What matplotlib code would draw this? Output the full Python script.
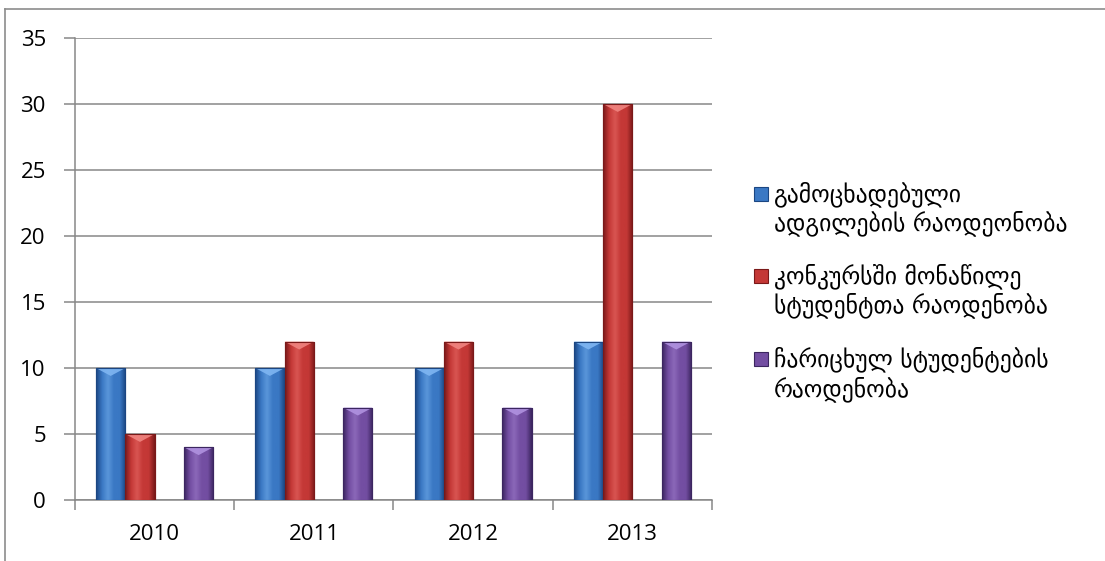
import numpy as np
import matplotlib
matplotlib.use("Agg")
import matplotlib.pyplot as plt
from matplotlib.patches import Polygon, Rectangle
from matplotlib.lines import Line2D
from matplotlib.colors import LinearSegmentedColormap

# ---- data ----
years = ["2010", "2011", "2012", "2013"]
series_names = [
    "გამოცხადებული\nადგილების რაოდეონობა",
    "კონკურსში მონაწილე\nსტუდენტთა რაოდენობა",
    "ჩარიცხულ სტუდენტების\nრაოდენობა",
]
announced = [10, 10, 10, 12]
participants = [5, 12, 12, 30]
enrolled = [4, 7, 7, 12]
y_ticks = [0, 5, 10, 15, 20, 25, 30, 35]

values = [announced, participants, enrolled]
# style: (edge dark, mid, light, bevel)
styles = [
    ("#1b4682", "#3a78c4", "#5a96da", "#7fb6f2"),
    ("#7a1919", "#c43836", "#d95552", "#f08480"),
    ("#3c2660", "#734ea2", "#8b68b9", "#b092e0"),
]
slots = [0, 1, 3]

W, H = 1105, 561
fig = plt.figure(figsize=(W / 100, H / 100), dpi=100)
fig.patch.set_facecolor("white")

ax = fig.add_axes([75 / W, 1 - 500 / H, (712 - 75) / W, (500 - 38) / H])
ax.set_xlim(-0.5, len(years) - 0.5)
ax.set_ylim(0, 35)

grid_c = "#878787"
for t in y_ticks:
    ax.axhline(t, color=grid_c, lw=1.1, zorder=1)

bar_w = 0.184
first_left = -0.5 + 0.132
x = np.arange(len(years))
bevel_d = 0.6

for vals, sty, slot in zip(values, styles, slots):
    edge, mid, light, bev = sty
    centers = x + first_left + slot * bar_w + bar_w / 2
    bars = ax.bar(centers, vals, width=bar_w, color=mid, edgecolor=edge,
                  linewidth=0.8, zorder=3)
    cmap = LinearSegmentedColormap.from_list(
        "g", [edge, mid, light, mid, mid, edge])
    grad = np.linspace(0, 1, 64).reshape(1, -1)
    for p in bars.patches:
        x0, y0 = p.get_x(), p.get_y()
        w, h = p.get_width(), p.get_height()
        im = ax.imshow(grad, cmap=cmap, extent=[x0, x0 + w, y0, y0 + h],
                       aspect="auto", zorder=3.5, interpolation="bicubic")
        im.set_clip_path(p)
        tri = Polygon([[x0, h], [x0 + w, h], [x0 + w * 0.5, h - bevel_d]],
                      closed=True, facecolor=bev, edgecolor="none",
                      alpha=0.9, zorder=4)
        ax.add_patch(tri)
        outline = Rectangle((x0, y0), w, h, fill=False, edgecolor=edge,
                            linewidth=0.8, zorder=4.5)
        ax.add_patch(outline)

ax.set_xlim(-0.5, len(years) - 0.5)
ax.set_ylim(0, 35)

for s in ["top", "right"]:
    ax.spines[s].set_visible(False)
for s in ["left", "bottom"]:
    ax.spines[s].set_color(grid_c)
    ax.spines[s].set_linewidth(1.1)

ax.set_yticks(y_ticks)
ax.set_yticklabels([str(t) for t in y_ticks])
ax.tick_params(axis="y", length=8, width=1.1, color=grid_c, pad=13,
               labelsize=16, labelcolor="black")
ax.set_xticks(np.arange(-0.5, len(years) + 0.5, 1.0))
ax.set_xticklabels([])
ax.set_xticks(x, minor=True)
ax.set_xticklabels(years, minor=True)
ax.tick_params(axis="x", which="major", length=7, width=1.1, color=grid_c)
ax.tick_params(axis="x", which="minor", length=0, pad=17, labelsize=16,
               labelcolor="black")
for lab in ax.get_yticklabels() + ax.get_xticklabels(minor=True):
    lab.set_fontfamily(["Open Sans", "DejaVu Sans"])

# ---- legend ----
leg_y = [194, 276, 359]
for name, sty, yy in zip(series_names, styles, leg_y):
    edge, mid, light, bev = sty
    fig.patches.append(Rectangle((754 / W, 1 - (yy + 7) / H), 14 / W, 14 / H,
                                 transform=fig.transFigure, facecolor=mid,
                                 edgecolor=edge, linewidth=0.8))
    fig.text(774 / W, 1 - (yy - 13) / H, name, ha="left", va="top",
             fontsize=17, linespacing=1.2,
             family=["DejaVu Sans"], color="black")

# ---- outer frame (partially visible) ----
fig.add_artist(Line2D([5 / W, 5 / W], [0, 1 - 9 / H], transform=fig.transFigure,
                      color="#8c8c8c", lw=1.2))
fig.add_artist(Line2D([5 / W, 1], [1 - 9 / H, 1 - 9 / H], transform=fig.transFigure,
                      color="#8c8c8c", lw=1.2))

fig.savefig("out.png", dpi=100, facecolor="white")
